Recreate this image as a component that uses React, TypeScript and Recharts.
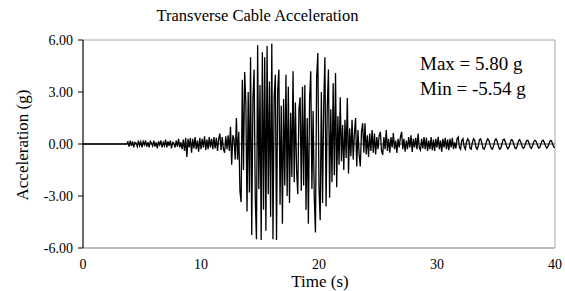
import { LineChart, Line, XAxis, YAxis, ReferenceLine, ReferenceArea } from 'recharts'

// sampled record, one row per second, DT = 0.1 s
const DT = 0.1
const accelRows: number[][] = [
  [0, 0, 0, 0, 0, 0, 0, 0, 0, 0],
  [0, 0, 0, 0, 0, 0, 0, 0, 0, 0],
  [0, 0, 0, 0, 0, 0, 0, 0, 0, 0],
  [0, 0, 0, 0, 0, 0, 0, 0, 0.12, -0.15],
  [0.2, -0.1, 0.15, -0.2, 0.1, 0.05, -0.15, 0.2, -0.1, 0.12],
  [-0.2, 0.15, -0.05, 0.2, -0.15, 0.1, -0.2, 0.15, 0.05, -0.12],
  [0.2, -0.15, 0.1, -0.25, 0.15, -0.05, 0.2, -0.2, 0.1, -0.1],
  [0.25, -0.2, 0.15, -0.1, 0.2, -0.25, 0.1, 0.05, -0.2, 0.2],
  [-0.15, 0.3, -0.2, 0.1, -0.3, 0.25, -0.4, 0.35, -0.75, 0.3],
  [-0.2, 0.35, -0.5, 0.3, -0.25, 0.4, -0.3, 0.2, -0.45, 0.35],
  [-0.3, 0.3, -0.2, 0.45, -0.35, 0.25, -0.3, 0.4, -0.2, 0.3],
  [-0.3, 0.4, -0.25, 0.35, -0.4, 0.3, 0.6, -0.35, 0.4, -0.3],
  [-0.5, 0.45, -0.3, 0.5, -0.4, 1.0, -1.2, 0.5, 0.3, -0.9],
  [1.5, -0.9, 0.7, -2.7, -3.35, 3.7, -1.5, 4.15, 2.4, -3.9],
  [3.0, -2.8, 5.0, -5.25, 2.6, 4.3, -3.2, -5.5, 5.7, -2.6],
  [3.4, -5.54, 5.3, -3.8, 5.0, -5.0, 5.65, -2.9, 3.6, -4.2],
  [5.8, -5.5, 2.7, 4.0, -5.54, 3.1, 4.3, -3.5, 2.2, -4.6],
  [2.6, -2.4, 4.0, -3.0, 3.3, -3.4, 1.8, -1.9, 4.2, -2.2],
  [2.4, -1.5, -2.9, 2.0, 2.7, -2.7, 3.3, -2.4, 3.4, -3.8],
  [1.5, -4.6, 2.5, 4.2, -2.6, 1.9, -3.1, -5.1, 3.8, 5.25],
  [-2.5, -4.4, 3.0, -3.4, 2.2, 5.0, -3.6, 2.1, 4.3, -3.1],
  [2.0, -2.2, 3.5, -1.8, 4.1, -2.5, 1.6, -1.2, 2.7, -1.0],
  [1.1, -1.5, 1.4, -0.8, 2.65, -1.7, 0.9, -0.7, 1.4, -0.9],
  [0.6, 1.5, -1.3, 0.8, -0.6, -1.3, 0.7, 1.2, -0.5, 1.2],
  [-0.6, 0.5, -0.75, 0.6, -0.4, 0.8, -0.5, 0.6, -0.6, 0.4],
  [-0.3, 0.5, 0.7, -0.4, -0.63, 0.4, -0.3, 0.8, -0.4, 0.3],
  [-0.5, 0.4, -0.2, 0.63, -0.3, 0.2, -0.52, 0.3, -0.2, 0.4],
  [0.7, -0.3, 0.3, -0.45, 0.2, -0.3, 0.4, -0.2, 0.5, -0.46],
  [0.3, -0.2, 0.35, -0.3, 0.6, -0.2, -0.35, 0.3, -0.25, 0.4],
  [-0.3, 0.35, -0.4, 0.2, -0.3, 0.4, -0.35, 0.25, -0.4, 0.3],
  [-0.2, 0.42, -0.3, 0.2, -0.44, 0.3, -0.2, 0.35, -0.3, 0.25],
  [-0.35, 0.3, -0.2, 0.35, -0.3, 0.1, -0.25, 0.3, 0.4, -0.2],
  [-0.3, 0.2, 0.3, -0.15, -0.3, 0.1, 0.3, 0.2, -0.25, -0.3],
  [0.1, 0.3, 0.2, -0.2, -0.3, -0.1, 0.25, 0.3, 0.05, -0.25],
  [-0.3, -0.1, 0.15, 0.3, 0.2, -0.05, -0.25, -0.3, -0.1, 0.2],
  [0.3, 0.15, -0.1, -0.3, -0.25, 0.0, 0.25, 0.28, 0.1, -0.15],
  [-0.28, -0.2, 0.05, 0.25, 0.22, 0.0, -0.22, -0.27, -0.1, 0.15],
  [0.25, 0.12, -0.1, -0.25, -0.2, 0.02, 0.2, 0.22, 0.05, -0.18],
  [-0.25, -0.1, 0.12, 0.22, 0.15, -0.05, -0.22, -0.22, -0.02, 0.18],
  [0.22, 0.08, -0.12, -0.24, -0.15, 0.05, 0.2, 0.18, 0.0, -0.18],
  [-0.2],
]

const xTicks = [0, 10, 20, 30, 40]
const yTicks = [-6, -3, 0, 3, 6]
const maxLabel = 'Max = 5.80 g'
const minLabel = 'Min = -5.54 g'

const data = accelRows.flat().map((a, i) => ({ t: Math.round(i * DT * 10) / 10, a }))

const FONT = '"Liberation Serif", "Times New Roman", serif'

export default function App() {
  return (
    <div style={{ position: 'absolute', left: 0, top: 0, width: 565, height: 291, background: '#fff', fontFamily: FONT }}>
      <LineChart width={565} height={291} data={data} margin={{ top: 40, right: 10, bottom: 13, left: 0 }}>
        <ReferenceArea x1={0} x2={40} y1={-6} y2={6} fill="none" stroke="#a6a6a6" ifOverflow="visible" />
        <XAxis
          dataKey="t"
          type="number"
          domain={[0, 40]}
          ticks={xTicks}
          height={30}
          axisLine={{ stroke: '#a6a6a6' }}
          tickLine={false}
          tickSize={6}
          tickMargin={5}
          tick={{ fill: '#000', fontSize: 14, fontFamily: FONT }}
        />
        <YAxis
          type="number"
          domain={[-6, 6]}
          ticks={yTicks}
          width={83}
          axisLine={{ stroke: '#000' }}
          tickLine={{ stroke: '#000' }}
          tickSize={5}
          tickMargin={5}
          tickFormatter={(v) => Number(v).toFixed(2)}
          tick={{ fill: '#000', fontSize: 14, fontFamily: FONT }}
        />
        <ReferenceLine y={0} stroke="#404040" />
        <Line type="linear" dataKey="a" stroke="#000" strokeWidth={1.3} dot={false} isAnimationActive={false} />
      </LineChart>
      <div style={{ position: 'absolute', left: 0, top: 6, width: 515, textAlign: 'center', fontSize: 16.5, color: '#000' }}>
        Transverse Cable Acceleration
      </div>
      <div style={{ position: 'absolute', left: 23, top: 145, transform: 'translate(-50%, -50%) rotate(-90deg)', whiteSpace: 'nowrap', fontSize: 17 }}>
        Acceleration (g)
      </div>
      <div style={{ position: 'absolute', left: 0, top: 273, width: 640, textAlign: 'center', fontSize: 17, lineHeight: '17px' }}>
        Time (s)
      </div>
      <div style={{ position: 'absolute', left: 420, top: 51, fontSize: 19, lineHeight: '25px' }}>
        <div>{maxLabel}</div>
        <div>{minLabel}</div>
      </div>
    </div>
  )
}
